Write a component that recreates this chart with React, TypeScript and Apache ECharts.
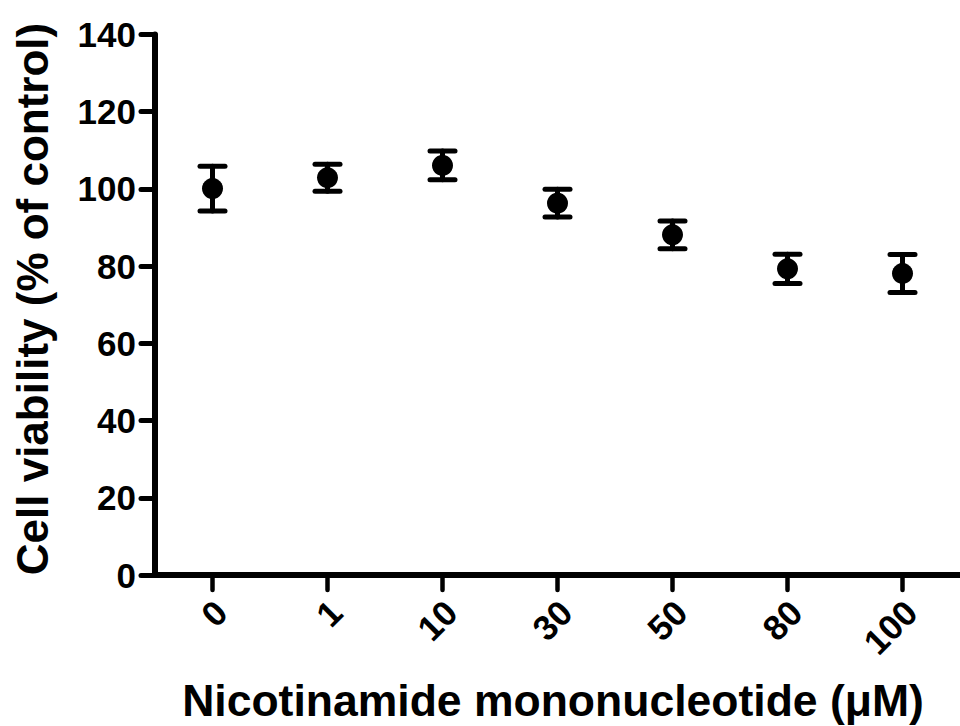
import React, { useEffect, useRef } from "react";
import * as echarts from "echarts";

const categories = ["0", "1", "10", "30", "50", "80", "100"];
const means = [100.1, 102.9, 106.1, 96.3, 88.1, 79.3, 78.1];
const errors = [5.8, 3.5, 3.7, 3.6, 3.6, 3.8, 4.9];
const yTicks = { min: 0, max: 140, interval: 20 };
const xTitle = "Nicotinamide mononucleotide (μM)";
const yTitle = "Cell viability (% of control)";

const FONT = "'Liberation Sans', Arial, sans-serif";

export default function App() {
  const ref = useRef<HTMLDivElement>(null);
  useEffect(() => {
    if (!ref.current) return;
    const chart = echarts.init(ref.current, undefined, { renderer: "svg" });
    const errData = categories.map((_, i) => [i, means[i] - errors[i], means[i] + errors[i]]);
    chart.setOption({
      animation: false,
      backgroundColor: "#ffffff",
      grid: { left: 155, top: 34.5, bottom: 151, right: -6, containLabel: false },
      xAxis: {
        type: "category",
        data: categories,
        boundaryGap: true,
        axisLine: { show: true, lineStyle: { color: "#000", width: 6 } },
        axisTick: { show: true, alignWithLabel: true, length: 15, lineStyle: { color: "#000", width: 4.5, cap: "round" } },
        axisLabel: {
          rotate: 45,
          margin: 40,
          color: "#000",
          fontSize: 35,
          fontWeight: "bold",
          fontFamily: FONT,
          padding: [0, -12, 0, 0],
        },
        splitLine: { show: false },
      },
      yAxis: {
        type: "value",
        min: yTicks.min,
        max: yTicks.max,
        interval: yTicks.interval,
        axisLine: { show: true, lineStyle: { color: "#000", width: 6 } },
        axisTick: { show: true, length: 14, lineStyle: { color: "#000", width: 5, cap: "round" } },
        axisLabel: {
          margin: 19,
          color: "#000",
          fontSize: 35,
          fontWeight: "bold",
          fontFamily: FONT,
        },
        splitLine: { show: false },
      },
      graphic: [
        {
          type: "text",
          x: 32,
          y: 299,
          rotation: Math.PI / 2,
          style: {
            text: yTitle,
            fill: "#000",
            font: `bold 44px ${FONT}`,
            align: "center",
            verticalAlign: "middle",
          },
        },
        {
          type: "text",
          x: 553,
          y: 700,
          style: {
            text: xTitle,
            fill: "#000",
            font: `bold 44.5px ${FONT}`,
            align: "center",
            verticalAlign: "middle",
          },
        },
      ],
      series: [
        {
          type: "custom",
          data: errData,
          z: 2,
          renderItem: (params: any, api: any) => {
            const x = api.value(0);
            const lo = api.coord([x, api.value(1)]);
            const hi = api.coord([x, api.value(2)]);
            const hw = 12.5;
            const style = { stroke: "#000", lineWidth: 5, lineCap: "round" };
            return {
              type: "group",
              children: [
                { type: "line", shape: { x1: lo[0], y1: lo[1], x2: hi[0], y2: hi[1] }, style },
                { type: "line", shape: { x1: hi[0] - hw, y1: hi[1], x2: hi[0] + hw, y2: hi[1] }, style },
                { type: "line", shape: { x1: lo[0] - hw, y1: lo[1], x2: lo[0] + hw, y2: lo[1] }, style },
              ],
            };
          },
        },
        {
          type: "scatter",
          data: means,
          symbol: "circle",
          symbolSize: 21,
          z: 3,
          itemStyle: { color: "#000", opacity: 1 },
        },
      ],
    });
    return () => chart.dispose();
  }, []);
  return (
    <div
      ref={ref}
      style={{ position: "absolute", left: 0, top: 0, width: 960, height: 726 }}
    />
  );
}
